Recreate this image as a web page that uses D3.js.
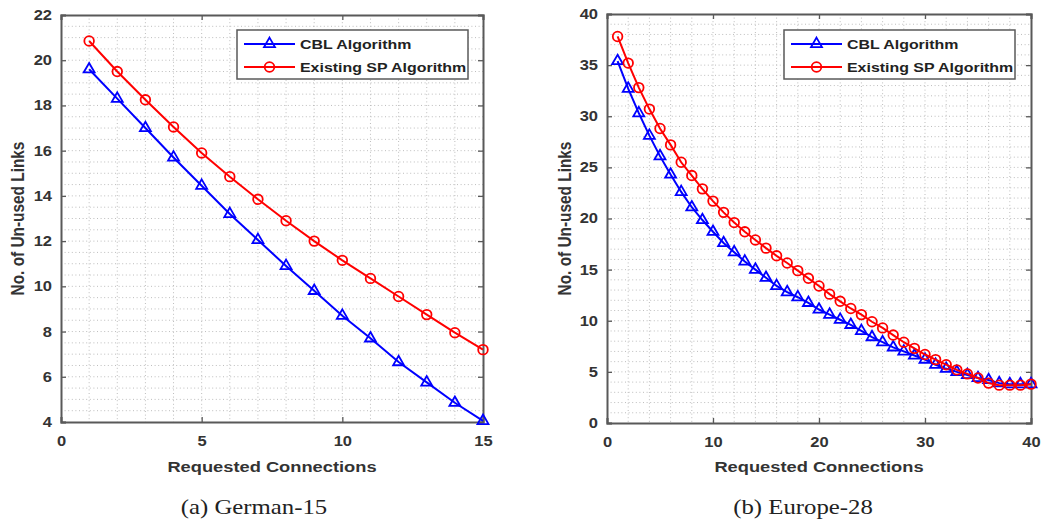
<!DOCTYPE html>
<html>
<head>
<meta charset="utf-8">
<script src="https://cdn.jsdelivr.net/npm/d3@7"></script>
<style>
  body { margin: 0; background: #fff; }
  svg text { font-family: "Liberation Sans", Arial, Helvetica, sans-serif; }
</style>
</head>
<body>
<div id="chart"></div>
<script>
        // (a) German-15
        const germanX = d3.range(1, 16);
        const germanCBL = [19.6, 18.3, 17.0, 15.7, 14.45, 13.2, 12.05, 10.9, 9.8, 8.7, 7.7, 6.65, 5.75, 4.85, 4.05];
        const germanSP = [20.85, 19.5, 18.25, 17.05, 15.9, 14.85, 13.85, 12.9, 12.0, 11.15, 10.35, 9.55, 8.75, 7.95, 7.2];
        const germanXTicks = [0, 5, 10, 15];
        const germanYTicks = [4, 6, 8, 10, 12, 14, 16, 18, 20, 22];

        // (b) Europe-28
        const europeX = d3.range(1, 41);
        const europeCBL = [35.4, 32.7, 30.3, 28.1, 26.1, 24.3, 22.6, 21.1, 19.85, 18.7,
                           17.6, 16.7, 15.8, 15.0, 14.2, 13.4, 12.8, 12.3, 11.75, 11.1,
                           10.6, 10.1, 9.6, 9.0, 8.4, 7.9, 7.4, 7.0, 6.6, 6.2,
                           5.7, 5.3, 5.0, 4.7, 4.4, 4.2, 3.9, 3.8, 3.8, 3.8];
        const europeSP = [37.8, 35.2, 32.8, 30.7, 28.8, 27.2, 25.5, 24.2, 22.9, 21.7,
                          20.6, 19.6, 18.7, 17.9, 17.1, 16.35, 15.65, 14.9, 14.15, 13.4,
                          12.6, 11.9, 11.2, 10.6, 9.9, 9.3, 8.6, 7.9, 7.3, 6.7,
                          6.2, 5.7, 5.2, 4.8, 4.4, 3.9, 3.7, 3.7, 3.7, 3.8];
        const europeXTicks = [0, 10, 20, 30, 40];
        const europeYTicks = [0, 5, 10, 15, 20, 25, 30, 35, 40];

        const seriesNames = ["CBL Algorithm", "Existing SP Algorithm"];
        const seriesColors = ["#0000ff", "#ff0000"];

        const width = 1045;
        const height = 523;
        const SX = 1.18;   // the original figure is stretched sideways, text too

        const svg = d3.select("#chart").append("svg")
            .attr("width", width)
            .attr("height", height);

        function drawMarker(g, kind, color) {
            if (kind === "tri") {
                g.append("path")
                    .attr("d", d3.symbol(d3.symbolTriangle, 52)())
                    .attr("fill", "none")
                    .attr("stroke", color)
                    .attr("stroke-width", 1.8);
            } else {
                g.append("circle")
                    .attr("r", 4.8)
                    .attr("fill", "none")
                    .attr("stroke", color)
                    .attr("stroke-width", 1.8);
            }
        }

        // horizontal text, widened by SX around its anchor point
        function wideText(g, x, y, str, size, anchor) {
            return g.append("text")
                .attr("transform", `translate(${x},${y}) scale(${SX},1)`)
                .attr("text-anchor", anchor || "middle")
                .style("font-size", size + "px")
                .text(str);
        }

        function drawPanel(p) {
            const x = d3.scaleLinear().domain(p.xDomain).range([p.left, p.right]);
            const y = d3.scaleLinear().domain(p.yDomain).range([p.bottom, p.top]);
            const g = svg.append("g");

            // dotted grid (major + minor)
            const xGrid = d3.range(p.xDomain[0], p.xDomain[1] + 1e-9, p.xMinor);
            const yGrid = d3.range(p.yDomain[0], p.yDomain[1] + 1e-9, p.yMinor);
            g.selectAll(".vgrid").data(xGrid.slice(1, -1)).join("line")
                .attr("x1", d => x(d)).attr("x2", d => x(d))
                .attr("y1", p.top).attr("y2", p.bottom)
                .attr("stroke", "#bdbdbd").attr("stroke-width", 1)
                .attr("stroke-dasharray", "1,2.6");
            g.selectAll(".hgrid").data(yGrid.slice(1, -1)).join("line")
                .attr("x1", p.left).attr("x2", p.right)
                .attr("y1", d => y(d)).attr("y2", d => y(d))
                .attr("stroke", "#bdbdbd").attr("stroke-width", 1)
                .attr("stroke-dasharray", "1,2.6");

            // axes with inward ticks on all sides
            const axisColor = "#595959";
            const bottomAxis = g.append("g").attr("transform", `translate(0,${p.bottom})`)
                .call(d3.axisBottom(x).tickValues(p.xTicks).tickSize(-5).tickPadding(14).tickFormat(d3.format("d")));
            const topAxis = g.append("g").attr("transform", `translate(0,${p.top})`)
                .call(d3.axisTop(x).tickValues(p.xTicks).tickSize(-5).tickFormat(""));
            const leftAxis = g.append("g").attr("transform", `translate(${p.left},0)`)
                .call(d3.axisLeft(y).tickValues(p.yTicks).tickSize(-5).tickPadding(9).tickFormat(d3.format("d")));
            const rightAxis = g.append("g").attr("transform", `translate(${p.right},0)`)
                .call(d3.axisRight(y).tickValues(p.yTicks).tickSize(-5).tickFormat(""));
            [bottomAxis, topAxis, leftAxis, rightAxis].forEach(a => {
                a.select(".domain").attr("stroke", axisColor).attr("stroke-width", 2);
                a.selectAll(".tick line").attr("stroke", axisColor).attr("stroke-width", 1.3);
                a.selectAll("text")
                    .attr("fill", "#333")
                    .attr("font-weight", "bold")
                    .style("font-size", "14px")
                    .style("font-weight", "bold");
            });
            bottomAxis.selectAll(".tick text").attr("transform", `scale(${SX},1)`);
            leftAxis.selectAll(".tick text")
                .attr("x", -9 / SX)
                .attr("transform", `scale(${SX},1)`);

            // series
            const series = [
                { values: p.cbl, color: seriesColors[0], marker: "tri" },
                { values: p.sp, color: seriesColors[1], marker: "circ" }
            ];
            const line = d3.line().x(d => x(d[0])).y(d => y(d[1]));
            series.forEach(s => {
                const pts = p.xs.map((xv, i) => [xv, s.values[i]]);
                g.append("path")
                    .datum(pts)
                    .attr("d", line)
                    .attr("fill", "none")
                    .attr("stroke", s.color)
                    .attr("stroke-width", 2);
                pts.forEach(pt => {
                    const m = g.append("g").attr("transform", `translate(${x(pt[0])},${y(pt[1])})`);
                    drawMarker(m, s.marker, s.color);
                });
            });

            // axis titles
            wideText(g, (p.left + p.right) / 2, 471.5, "Requested Connections", 15.5)
                .attr("fill", "#333")
                .style("font-weight", "bold");
            g.append("text")
                .attr("transform", `translate(${p.yLabelX},${(p.top + p.bottom) / 2}) scale(${SX},1) rotate(-90)`)
                .attr("text-anchor", "middle")
                .attr("fill", "#333")
                .style("font-size", "15.4px")
                .style("font-weight", "bold")
                .text("No. of Un-used Links");

            // caption
            wideText(g, p.captionX, 514, p.caption, 21)
                .attr("fill", "#222")
                .style("font-family", "'Liberation Serif', 'Times New Roman', serif");

            // legend
            const lg = g.append("g").attr("transform", `translate(${p.legendX},${p.legendY})`);
            lg.append("rect")
                .attr("width", p.legendW).attr("height", 49)
                .attr("fill", "#fff")
                .attr("stroke", "#5a5a5a").attr("stroke-width", 1.5);
            seriesNames.forEach((name, i) => {
                const cy = 14 + i * 23;
                lg.append("line")
                    .attr("x1", 7).attr("x2", 58)
                    .attr("y1", cy).attr("y2", cy)
                    .attr("stroke", seriesColors[i]).attr("stroke-width", 2);
                const m = lg.append("g").attr("transform", `translate(32.5,${cy})`);
                drawMarker(m, i === 0 ? "tri" : "circ", seriesColors[i]);
                wideText(lg, 63, cy + 5, name, 13.5, "start")
                    .attr("fill", "#222")
                    .style("font-weight", "bold");
            });
        }

        drawPanel({
            xs: germanX, cbl: germanCBL, sp: germanSP,
            xDomain: [0, 15], yDomain: [4, 22],
            xTicks: germanXTicks, yTicks: germanYTicks,
            xMinor: 1, yMinor: 0.5,
            left: 61, right: 483, top: 15, bottom: 422,
            yLabelX: 24, captionX: 254, caption: "(a) German-15",
            legendX: 237, legendY: 30, legendW: 231
        });

        drawPanel({
            xs: europeX, cbl: europeCBL, sp: europeSP,
            xDomain: [0, 40], yDomain: [0, 40],
            xTicks: europeXTicks, yTicks: europeYTicks,
            xMinor: 2, yMinor: 1,
            left: 607, right: 1031, top: 14, bottom: 423,
            yLabelX: 571, captionX: 803, caption: "(b) Europe-28",
            legendX: 784, legendY: 30, legendW: 231
        });
</script>
</body>
</html>
